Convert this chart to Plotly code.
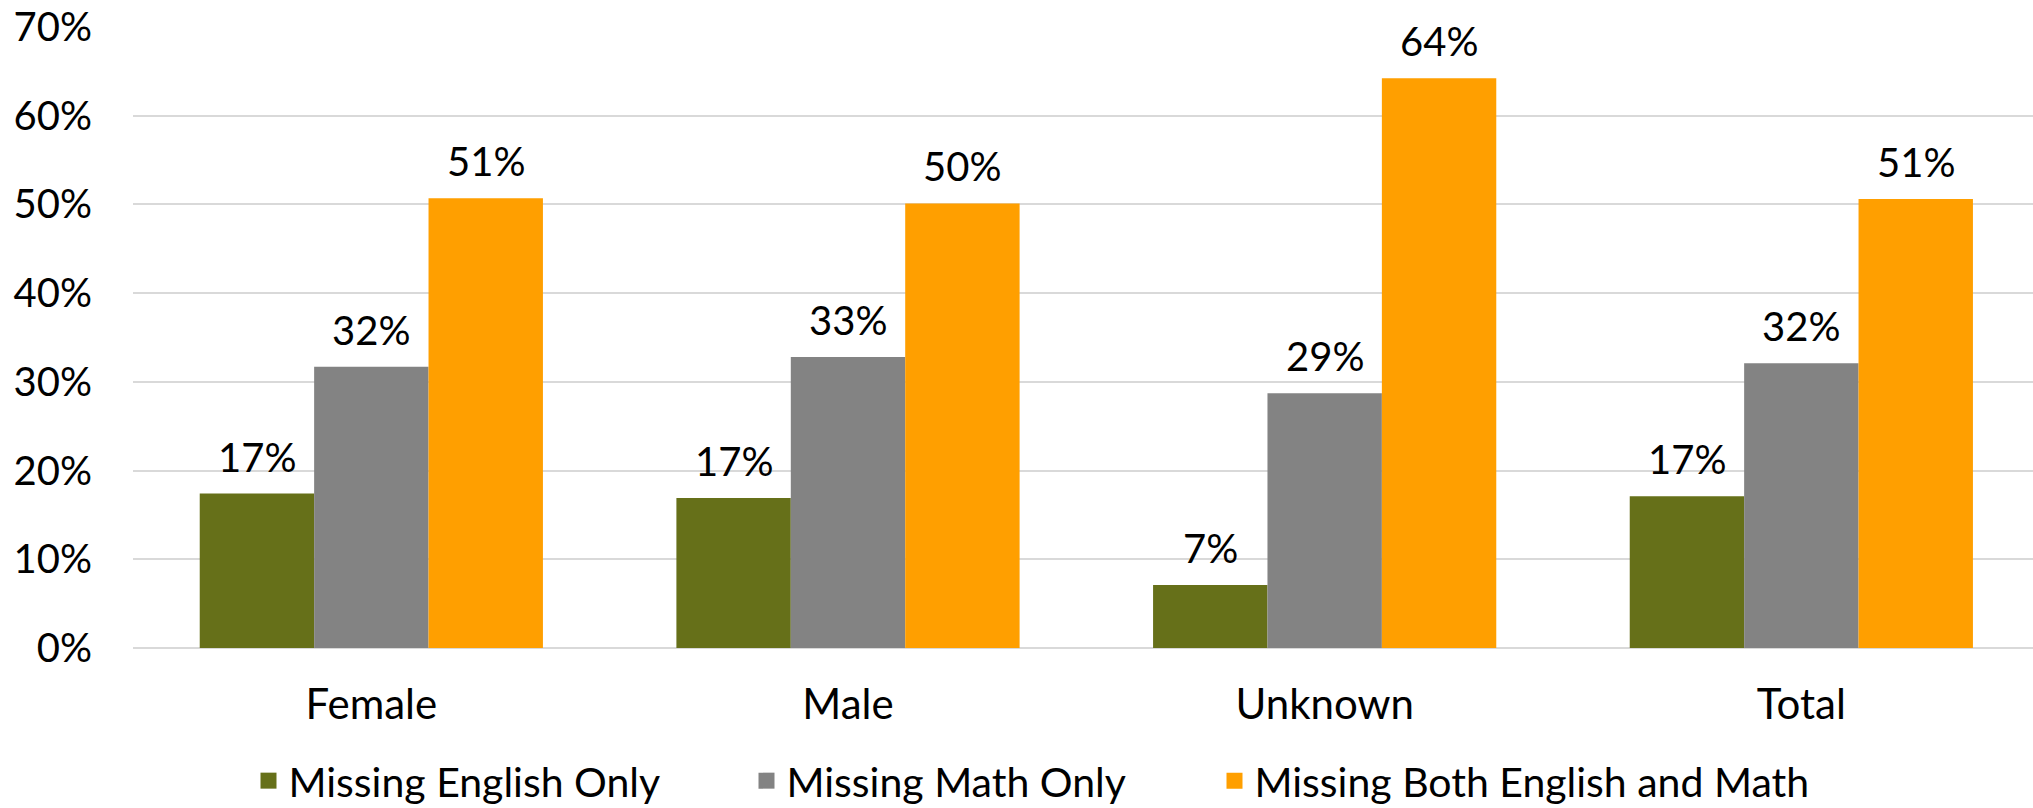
import plotly.graph_objects as go

categories = ["Female", "Male", "Unknown", "Total"]
series_names = ["Missing English Only", "Missing Math Only", "Missing Both English and Math"]
english_only = [17.4, 16.9, 7.1, 17.1]
math_only = [31.7, 32.8, 28.7, 32.1]
both = [50.7, 50.1, 64.2, 50.6]
series_values = [english_only, math_only, both]
colors = ["#667019", "#838383", "#FF9F00"]
y_ticks = [0, 10, 20, 30, 40, 50, 60, 70]

FONT = "Lato"
W, H = 2033, 808
fig = go.Figure()
legend_names = ["legend", "legend2", "legend3"]
for name, vals, col, lg in zip(series_names, series_values, colors, legend_names):
    fig.add_trace(go.Bar(x=categories, y=vals, name=name, showlegend=False,
                         marker=dict(color=col, line=dict(width=0))))
    # legend entry (square swatch)
    fig.add_trace(go.Scatter(x=[None], y=[None], mode="markers", name=name, legend=lg,
                             marker=dict(symbol="square", size=16, color=col)))

bargap = 0.28
w = (1 - bargap) / 3
annotations = []
for si, vals in enumerate(series_values):
    for ci, v in enumerate(vals):
        annotations.append(dict(x=ci + (si - 1) * w, y=v, xref="x", yref="y", text=f"{round(v)}%",
                                showarrow=False, yanchor="bottom", yshift=11,
                                font=dict(family=FONT, size=40, color="#000000")))

# legend swatch centre positions (px)
legend_px = [268, 766, 1234]
leg_common = dict(orientation="h", xref="container", yref="container", yanchor="middle",
                  y=1 - 781 / H, xanchor="left", font=dict(family=FONT, size=41),
                  itemwidth=30, bgcolor="rgba(0,0,0,0)")

fig.update_layout(
    width=W, height=H,
    margin=dict(l=133, r=0, t=26, b=160),
    paper_bgcolor="white", plot_bgcolor="white",
    barmode="group", bargap=bargap, bargroupgap=0,
    font=dict(family=FONT, size=40, color="#000000"),
    showlegend=True,
    legend=dict(**leg_common, x=(legend_px[0] - 19.5) / W),
    legend2=dict(**leg_common, x=(legend_px[1] - 19.5) / W),
    legend3=dict(**leg_common, x=(legend_px[2] - 19.5) / W),
    annotations=annotations,
    xaxis=dict(range=[-0.5, 3.486], showgrid=False, showline=False, ticks="", automargin=False,
               tickfont=dict(family=FONT, size=42), ticklabelstandoff=28),
    yaxis=dict(range=[0, 70.1], tickvals=y_ticks, ticktext=[f"{t}%" for t in y_ticks],
               showgrid=True, gridcolor="#D9D9D9", gridwidth=2, zeroline=True, automargin=False,
               zerolinecolor="#D9D9D9", zerolinewidth=2, showline=False, ticks="",
               ticklabeloverflow="allow",
               tickfont=dict(family=FONT, size=40), ticklabelstandoff=40),
)
fig.write_html("out.html", config={"displayModeBar": False},
               post_script="document.body.style.margin='0';document.body.style.overflow='hidden';")
